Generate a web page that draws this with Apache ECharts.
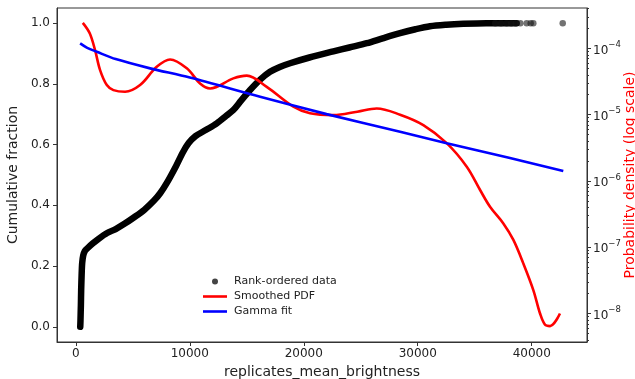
<!DOCTYPE html>
<html><head><meta charset="utf-8">
<script src="https://cdn.jsdelivr.net/npm/echarts@6/dist/echarts.min.js"></script>
<style>html,body{margin:0;padding:0;background:#fff}#c{width:635px;height:379px}</style>
</head><body><div id="c"></div>
<script>
// Cumulative fraction (rank-ordered data)
const cdfX = [390,410,430,445,470,510,560,650,800,1000,1500,2000,2750,3500,4300,5090,6000,6840,7400,8000,8800,9400,9900,10500,11400,12370,13200,13820,14500,15290,16200,17040,17900,18800,20500,22600,24000,25530,27000,28450,29800,31080,32500,34000,36000,38680];
const cdfY = [0.0,0.02,0.05,0.07,0.12,0.17,0.21,0.235,0.25,0.258,0.275,0.29,0.309,0.322,0.34,0.36,0.385,0.415,0.44,0.475,0.53,0.575,0.605,0.628,0.648,0.67,0.695,0.714,0.745,0.78,0.815,0.84,0.856,0.868,0.887,0.907,0.92,0.934,0.951,0.967,0.98,0.99,0.995,0.998,1.0,1.0];
const tailX = [36800,37300,37800,38200,38600,39000,39560,39910,40140,42720];
const tailY = [1,1,1,1,1,1,1,1,1,1];
// Smoothed PDF (probability density)
const pdfX = [614,1230,1690,2130,2720,3300,4320,5640,7100,8270,9740,10900,11780,13820,15000,16750,19090,20550,22600,24700,26400,28450,30490,32540,34300,35470,36340,37510,38390,39260,40140,40730,41170,41610,42480];
const pdfY = [2.43e-4,1.68e-4,9.4e-5,4.71e-5,2.80e-5,2.35e-5,2.22e-5,2.80e-5,5.28e-5,6.82e-5,5.01e-5,2.96e-5,2.49e-5,3.53e-5,3.89e-5,2.63e-5,1.32e-5,1.05e-5,9.86e-6,1.11e-5,1.24e-5,1.0e-5,6.97e-6,3.72e-6,1.64e-6,7.3e-7,4.09e-7,2.29e-7,1.29e-7,5.71e-8,2.26e-8,1.0e-8,6.76e-9,6.46e-9,1.0e-8];
// Gamma fit
const gammaX = [380,1000,1840,3500,6520,10000,16170,22000,28450,32540,38000,42770];
const gammaY = [1.19e-4,1.02e-4,8.9e-5,6.9e-5,5.0e-5,3.63e-5,1.86e-5,1.02e-5,5.52e-6,3.72e-6,2.24e-6,1.41e-6];
// Tick labels
const xTicks = [0,10000,20000,30000,40000];
const leftTicks = [0,0.2,0.4,0.6,0.8,1.0];
const rightTickExps = [-8,-7,-6,-5,-4];

const logMin = -8.43, logMax = -3.39;
const minorTicks = [];
for (let n = -9; n <= -4; n++) for (let k = 2; k <= 9; k++) {
  const v = n + Math.log10(k);
  if (v > logMin && v < logMax) minorTicks.push(v);
}
const zip = (a, b) => a.map((v, i) => [v, b[i]]);
const font = 'DejaVu Sans';
const tickCol = '#333';
const lineIcon = 'path://M0,0H24V2.6H0Z';

const chart = echarts.init(document.getElementById('c'), null, {renderer: 'canvas'});
chart.setOption({
  animation: false,
  backgroundColor: '#fff',
  textStyle: {fontFamily: font},
  grid: {left: 57, right: 48, top: 8, bottom: 37, show: true, borderColor: tickCol, borderWidth: 1, backgroundColor: 'transparent', outerBoundsMode: 'none', containLabel: false},
  legend: {
    orient: 'vertical', left: 198, top: 271, itemGap: 4, itemWidth: 24, itemHeight: 6,
    textStyle: {fontFamily: font, fontSize: 11, color: '#222', padding: [0, 0, 0, 2]},
    data: [
      {name: 'Rank-ordered data', icon: 'circle', itemStyle: {color: '#444', borderWidth: 0}},
      {name: 'Smoothed PDF', icon: lineIcon, itemStyle: {color: '#ff0000', borderWidth: 0}},
      {name: 'Gamma fit', icon: lineIcon, itemStyle: {color: '#0000ff', borderWidth: 0}}
    ]
  },
  xAxis: {
    type: 'value', min: -1650, max: 44850,
    name: 'replicates_mean_brightness', nameLocation: 'middle', nameGap: 19,
    nameTextStyle: {fontFamily: font, fontSize: 14, color: '#222'},
    axisLine: {show: true, onZero: false, lineStyle: {color: tickCol}},
    axisTick: {show: true, length: 4, inside: false, customValues: xTicks, lineStyle: {color: tickCol}},
    axisLabel: {customValues: xTicks, margin: 6, fontFamily: font, fontSize: 12, color: '#222', formatter: v => String(Math.round(v))},
    splitLine: {show: false}
  },
  yAxis: [
    {
      type: 'value', min: -0.05, max: 1.05, position: 'left',
      name: 'Cumulative fraction', nameLocation: 'middle', nameGap: 30, nameRotate: 90,
      nameTextStyle: {fontFamily: font, fontSize: 14, color: '#222'},
      axisLine: {show: true, onZero: false, lineStyle: {color: tickCol}},
      axisTick: {show: true, length: 4, customValues: leftTicks, lineStyle: {color: tickCol}},
      axisLabel: {customValues: leftTicks, margin: 7, fontFamily: font, fontSize: 12, color: '#222', formatter: v => v.toFixed(1)},
      splitLine: {show: false}
    },
    {
      type: 'value', min: logMin, max: logMax, position: 'right',
      name: 'Probability density (log scale)', nameLocation: 'middle', nameGap: 36, nameRotate: 90,
      nameMoveOverlap: false,
      nameTextStyle: {fontFamily: font, fontSize: 14, color: '#ff0000'},
      axisLine: {show: true, onZero: false, lineStyle: {color: tickCol}},
      axisTick: {show: true, length: 4, customValues: rightTickExps, lineStyle: {color: tickCol}},
      axisLabel: {
        customValues: rightTickExps, margin: 6, fontFamily: font, color: '#222',
        formatter: v => '{b|10}{s|\u2212' + Math.abs(Math.round(v)) + '}',
        rich: {
          b: {fontFamily: font, fontSize: 12, color: '#222', verticalAlign: 'bottom', lineHeight: 16},
          s: {fontFamily: font, fontSize: 8.5, color: '#222', verticalAlign: 'top', lineHeight: 16, padding: [0, 0, 6, 0]}
        }
      },
      splitLine: {show: false}
    },
    {
      type: 'value', min: logMin, max: logMax, position: 'right', offset: 0,
      axisLine: {show: false, onZero: false},
      axisTick: {show: true, length: 2, customValues: minorTicks, lineStyle: {color: tickCol}},
      axisLabel: {show: false},
      splitLine: {show: false}
    }
  ],
  series: [
    {
      name: 'Rank-ordered data', type: 'line', xAxisIndex: 0, yAxisIndex: 0,
      data: zip(cdfX, cdfY), smooth: 0.3, symbol: 'none', showSymbol: false,
      lineStyle: {color: '#000', width: 6.5, cap: 'round', join: 'round'},
      itemStyle: {color: '#444'}, z: 2
    },
    {
      name: 'Rank-ordered data', type: 'scatter', xAxisIndex: 0, yAxisIndex: 0,
      data: zip(tailX, tailY), symbolSize: 6.5,
      itemStyle: {color: 'rgba(20,20,20,0.75)'}, z: 2
    },
    {
      name: 'Smoothed PDF', type: 'line', xAxisIndex: 0, yAxisIndex: 1,
      data: zip(pdfX, pdfY.map(v => Math.log10(v))), smooth: 0.35, symbol: 'none',
      lineStyle: {color: '#ff0000', width: 2.6}, itemStyle: {color: '#ff0000'}, z: 3
    },
    {
      name: 'Gamma fit', type: 'line', xAxisIndex: 0, yAxisIndex: 1,
      data: zip(gammaX, gammaY.map(v => Math.log10(v))), smooth: 0.3, symbol: 'none',
      lineStyle: {color: '#0000ff', width: 2.6}, itemStyle: {color: '#0000ff'}, z: 4
    }
  ]
});
</script></body></html>
